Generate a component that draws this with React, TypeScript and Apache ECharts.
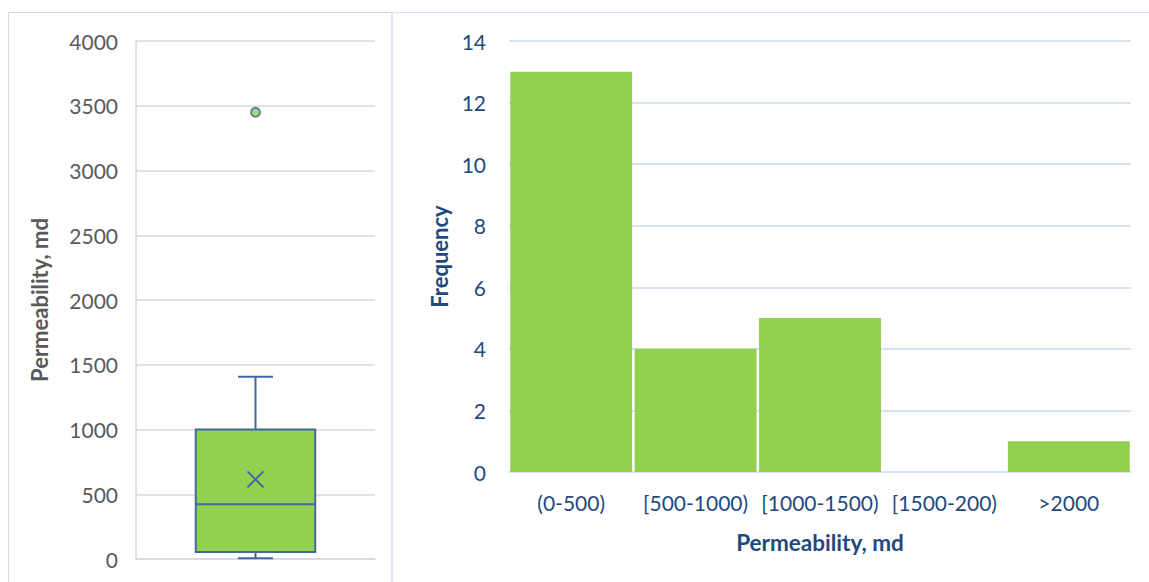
import React, { useEffect, useRef } from "react";
import * as echarts from "echarts";

const boxCategory = ["Permeability"];
// [min, Q1, median, Q3, max, mean]
const boxStats = [[5, 55, 422, 1000, 1408, 615]];
const outliers = [[0, 3450]];
const boxTicks = [0, 500, 1000, 1500, 2000, 2500, 3000, 3500, 4000];

const histCategories = ["(0-500)", "[500-1000)", "[1000-1500)", "[1500-200)", ">2000"];
const histCounts = [13, 4, 5, 0, 1];

const FONT = "Lato, 'Noto Sans', sans-serif";
const GREEN = "#92D050";
const BLUE = "#41689F";
const GRAY_TXT = "#595959";
const NAVY = "#1F497D";

export default function App() {
  const ref = useRef<HTMLDivElement>(null);
  useEffect(() => {
    if (!ref.current) return;
    const chart = echarts.init(ref.current, undefined, { renderer: "svg" });
    chart.setOption({
      animation: false,
      backgroundColor: "#ffffff",
      textStyle: { fontFamily: FONT },
      graphic: [
        { type: "line", shape: { x1: 8.5, y1: 12.5, x2: 391, y2: 12.5 }, style: { stroke: "#D9D9D9", lineWidth: 1 } },
        { type: "line", shape: { x1: 8.5, y1: 12.5, x2: 8.5, y2: 582 }, style: { stroke: "#D9D9D9", lineWidth: 1 } },
        { type: "line", shape: { x1: 391, y1: 12.5, x2: 1149, y2: 12.5 }, style: { stroke: "#D6E3F3", lineWidth: 1 } },
        { type: "line", shape: { x1: 392, y1: 12.5, x2: 392, y2: 582 }, style: { stroke: "#D6E3F3", lineWidth: 1.5 } },
      ],
      grid: [
        { left: 136, right: 774, top: 41, bottom: 23 },
        { left: 509, right: 18, top: 41, bottom: 110 },
      ],
      xAxis: [
        {
          type: "category",
          gridIndex: 0,
          data: boxCategory,
          axisLabel: { show: false },
          axisTick: { show: false },
          axisLine: { show: true, lineStyle: { color: "#D9D9D9", width: 1.5 } },
        },
        {
          type: "category",
          gridIndex: 1,
          data: histCategories,
          axisTick: { show: false },
          axisLine: { show: true, lineStyle: { color: "#D6E3F3", width: 2 } },
          axisLabel: { color: NAVY, fontSize: 21, margin: 20, fontFamily: FONT, interval: 0 },
          name: "Permeability, md",
          nameLocation: "middle",
          nameGap: 59,
          nameTextStyle: { color: NAVY, fontSize: 22.5, fontWeight: "bold", fontFamily: FONT },
        },
      ],
      yAxis: [
        {
          type: "value",
          gridIndex: 0,
          min: 0,
          max: 4000,
          interval: 500,
          axisLine: { show: true, lineStyle: { color: "#D9D9D9", width: 1.5 } },
          axisTick: { show: false },
          splitLine: { lineStyle: { color: "#D9D9D9", width: 1.5 } },
          axisLabel: {
            color: GRAY_TXT,
            fontSize: 21,
            margin: 18,
            fontFamily: FONT,
            formatter: (v: number) => (boxTicks.includes(v) ? String(v) : ""),
          },
          name: "Permeability, md",
          nameLocation: "middle",
          nameGap: 86,
          nameTextStyle: { color: GRAY_TXT, fontSize: 22, fontWeight: "bold", fontFamily: FONT },
        },
        {
          type: "value",
          gridIndex: 1,
          min: 0,
          max: 14,
          interval: 2,
          axisLine: { show: false },
          axisTick: { show: false },
          splitLine: { lineStyle: { color: "#D6E3F3", width: 2 } },
          axisLabel: { color: NAVY, fontSize: 21, margin: 23, fontFamily: FONT },
          name: "Frequency",
          nameLocation: "middle",
          nameGap: 55,
          nameTextStyle: { color: NAVY, fontSize: 22, fontWeight: "bold", fontFamily: FONT },
        },
      ],
      series: [
        {
          type: "custom",
          xAxisIndex: 0,
          yAxisIndex: 0,
          data: boxStats.map((s, i) => [i, ...s]),
          renderItem: (params: any, api: any) => {
            const x = api.value(0);
            const mn = api.coord([x, api.value(1)]);
            const q1 = api.coord([x, api.value(2)]);
            const md = api.coord([x, api.value(3)]);
            const q3 = api.coord([x, api.value(4)]);
            const mx = api.coord([x, api.value(5)]);
            const mean = api.coord([x, api.value(6)]);
            const bw = api.size([1, 0])[0] * 0.5;
            const hw = bw / 2;
            const cap = 17.5;
            const cx = mn[0];
            const ls = { stroke: BLUE, lineWidth: 2 };
            const m = 8;
            return {
              type: "group",
              children: [
                { type: "line", shape: { x1: cx, y1: q3[1], x2: cx, y2: mx[1] }, style: ls },
                { type: "line", shape: { x1: cx - cap, y1: mx[1], x2: cx + cap, y2: mx[1] }, style: ls },
                { type: "line", shape: { x1: cx, y1: q1[1], x2: cx, y2: mn[1] }, style: ls },
                { type: "line", shape: { x1: cx - cap, y1: mn[1], x2: cx + cap, y2: mn[1] }, style: ls },
                {
                  type: "rect",
                  shape: { x: cx - hw, y: q3[1], width: bw, height: q1[1] - q3[1] },
                  style: { fill: GREEN, stroke: BLUE, lineWidth: 2 },
                },
                { type: "line", shape: { x1: cx - hw, y1: md[1], x2: cx + hw, y2: md[1] }, style: ls },
                { type: "line", shape: { x1: mean[0] - m, y1: mean[1] - m, x2: mean[0] + m, y2: mean[1] + m }, style: ls },
                { type: "line", shape: { x1: mean[0] - m, y1: mean[1] + m, x2: mean[0] + m, y2: mean[1] - m }, style: ls },
              ],
            };
          },
        },
        {
          type: "scatter",
          xAxisIndex: 0,
          yAxisIndex: 0,
          data: outliers,
          symbol: "circle",
          symbolSize: 9,
          itemStyle: { color: GREEN, borderColor: BLUE, borderWidth: 2 },
        },
        {
          type: "bar",
          xAxisIndex: 1,
          yAxisIndex: 1,
          data: histCounts,
          barCategoryGap: "2%",
          itemStyle: { color: GREEN },
        },
      ],
    });
    return () => chart.dispose();
  }, []);
  return (
    <div
      ref={ref}
      style={{ position: "fixed", left: 0, top: 0, width: 1149, height: 582 }}
    />
  );
}
